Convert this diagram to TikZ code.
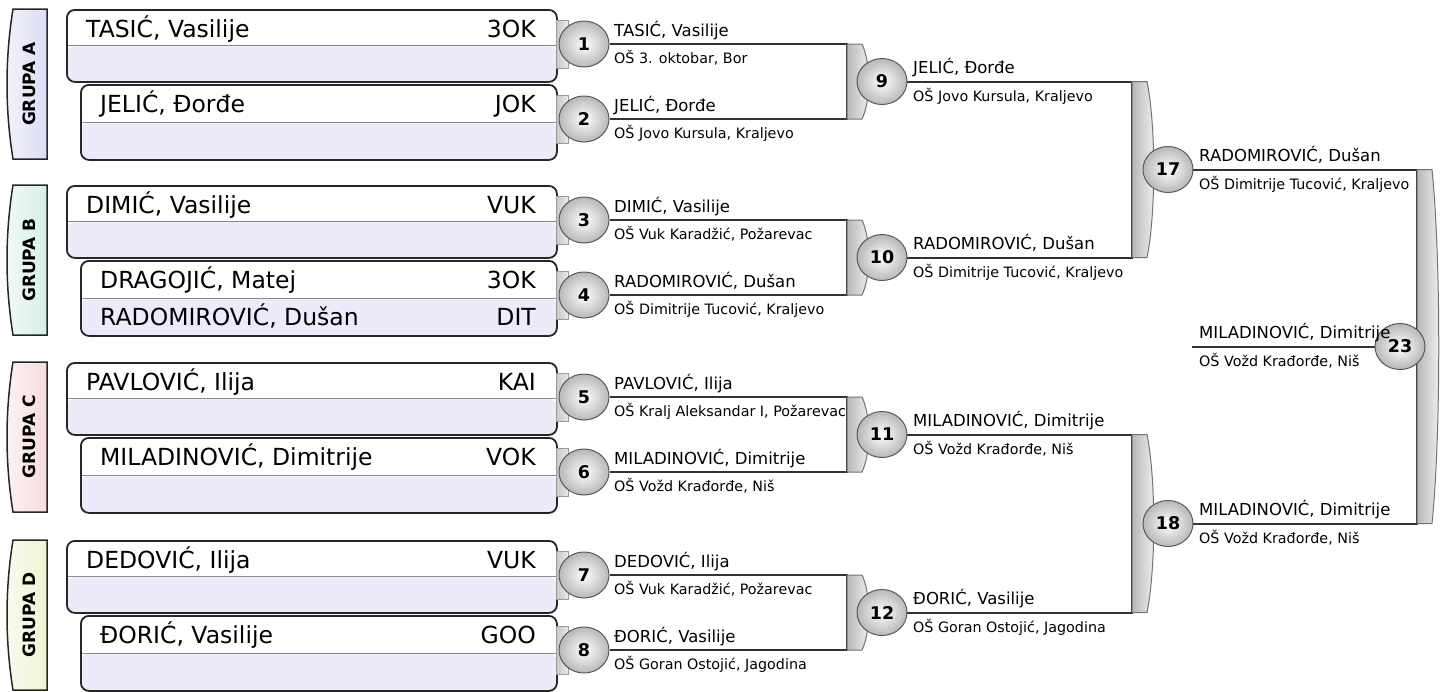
\documentclass[tikz,border=0pt]{standalone}
\usepackage{fontspec}
\setmainfont{DejaVu Sans}
\usetikzlibrary{shapes.geometric}
\definecolor{lowfill}{HTML}{EDEBFA}
\definecolor{tabA}{HTML}{DCDCF6}
\definecolor{tabB}{HTML}{D8F0E6}
\definecolor{tabC}{HTML}{F8DCDC}
\definecolor{tabD}{HTML}{F0F4D2}
\tikzset{
  pbox/.style={draw=black!85, line width=1.8pt, rounded corners=8pt, fill=white,
    inner sep=0pt, anchor=north west,
    path picture={\fill[lowfill] (path picture bounding box.west) rectangle (path picture bounding box.south east);
      \draw[black!45, line width=1pt] (path picture bounding box.west) -- (path picture bounding box.east);}},
  big/.style={font=\fontsize{23.5pt}{28pt}\selectfont, inner sep=0pt},
  nm/.style={font=\fontsize{16.5pt}{19pt}\selectfont, inner sep=0pt, anchor=base west},
  sc/.style={font=\fontsize{14.3pt}{17pt}\selectfont, inner sep=0pt, anchor=base west},
  grp/.style={font=\bfseries\fontsize{17pt}{19pt}\selectfont, inner sep=0pt},
  ctab/.style={draw=black!40, line width=0.8pt, left color=black!22, right color=black!8,
    minimum width=12pt, minimum height=48pt, inner sep=0pt, anchor=west},
  wire/.style={draw=black!80, line width=2pt},
  bar/.style={draw=black!55, line width=1pt, left color=black!28, right color=black!5},
  match/.style={ellipse, draw=black!65, line width=1pt, inner color=white, outer color=black!28,
    minimum width=50pt, minimum height=46pt, inner sep=0pt,
    font=\bfseries\fontsize{17.5pt}{19pt}\selectfont},
}
\newcommand\gtab[3]{%
  \path[draw=black!85, line width=1.5pt, left color=#2!35!white, right color=#2]
    (47,#1) -- (13,#1) .. controls (5,{#1+50}) and (5,{#1+100}) .. (13,{#1+150}) -- (47,{#1+150}) -- cycle;
  \node[grp, rotate=90] (g#3) at (29,{#1+75}) {GRUPA #3};}
\newcommand\mlabel[5]{%
  \node[nm] (#1n) at (#2,{#3-8}) {#4};
  \node[sc] (#1s) at (#2,{#3+19.5}) {#5};}
\newcommand\gbar[4]{%
  \path[bar] (#2,#3) -- ({#2+15},#3) .. controls ({#2+24},{#3+(#4-#3)*0.25}) and ({#2+24},{#4-(#4-#3)*0.25}) .. ({#2+15},#4) -- (#2,#4) -- cycle;}
\begin{document}
\begin{tikzpicture}[x=1pt,y=-1pt]
\useasboundingbox (0,0) rectangle (1445,691);
% group tabs
\gtab{9}{tabA}{A}
\gtab{185}{tabB}{B}
\gtab{362}{tabC}{C}
\gtab{540}{tabD}{D}
% player boxes
\node[pbox, minimum width=490pt, minimum height=72pt] (pA1) at (66,9) {};
\node[pbox, minimum width=476pt, minimum height=75pt] (pA2) at (80,84) {};
\node[pbox, minimum width=490pt, minimum height=72pt] (pB1) at (66,185) {};
\node[pbox, minimum width=476pt, minimum height=75pt] (pB2) at (80,260) {};
\node[pbox, minimum width=490pt, minimum height=72pt] (pC1) at (66,362) {};
\node[pbox, minimum width=476pt, minimum height=75pt] (pC2) at (80,437) {};
\node[pbox, minimum width=490pt, minimum height=72pt] (pD1) at (66,540) {};
\node[pbox, minimum width=476pt, minimum height=75pt] (pD2) at (80,615) {};
% box texts
\node[big, anchor=base west] (nA1) at (86,37) {TASIĆ, Vasilije};
\node[big, anchor=base east] (cA1) at (536,37) {3OK};
\node[big, anchor=base west] (nA2) at (100,112) {JELIĆ, Đorđe};
\node[big, anchor=base east] (cA2) at (536,112) {JOK};
\node[big, anchor=base west] (nB1) at (86,213) {DIMIĆ, Vasilije};
\node[big, anchor=base east] (cB1) at (536,213) {VUK};
\node[big, anchor=base west] (nB2) at (100,288) {DRAGOJIĆ, Matej};
\node[big, anchor=base east] (cB2) at (536,288) {3OK};
\node[big, anchor=base west] (nB3) at (100,325) {RADOMIROVIĆ, Dušan};
\node[big, anchor=base east] (cB3) at (536,325) {DIT};
\node[big, anchor=base west] (nC1) at (86,390) {PAVLOVIĆ, Ilija};
\node[big, anchor=base east] (cC1) at (536,390) {KAI};
\node[big, anchor=base west] (nC2) at (100,465) {MILADINOVIĆ, Dimitrije};
\node[big, anchor=base east] (cC2) at (536,465) {VOK};
\node[big, anchor=base west] (nD1) at (86,568) {DEDOVIĆ, Ilija};
\node[big, anchor=base east] (cD1) at (536,568) {VUK};
\node[big, anchor=base west] (nD2) at (100,643) {ĐORIĆ, Vasilije};
\node[big, anchor=base east] (cD2) at (536,643) {GOO};
% connector tabs
\node[ctab] (t1) at (556,44) {};
\node[ctab] (t2) at (556,119) {};
\node[ctab] (t3) at (556,220) {};
\node[ctab] (t4) at (556,295) {};
\node[ctab] (t5) at (556,397) {};
\node[ctab] (t6) at (556,472) {};
\node[ctab] (t7) at (556,575) {};
\node[ctab] (t8) at (556,650) {};
% positions of later rounds
\path (882,81.5) coordinate (c9) (882,257.5) coordinate (c10) (882,434.5) coordinate (c11) (882,612.5) coordinate (c12)
      (1168,169.5) coordinate (c17) (1168,523.5) coordinate (c18) (1400,346.5) coordinate (c23)
      (1192,346.5) coordinate (f23);
% labels
\mlabel{l1}{614}{44}{TASIĆ, Vasilije}{OŠ 3. oktobar, Bor}
\mlabel{l2}{614}{119}{JELIĆ, Đorđe}{OŠ Jovo Kursula, Kraljevo}
\mlabel{l3}{614}{220}{DIMIĆ, Vasilije}{OŠ Vuk Karadžić, Požarevac}
\mlabel{l4}{614}{295}{RADOMIROVIĆ, Dušan}{OŠ Dimitrije Tucović, Kraljevo}
\mlabel{l5}{614}{397}{PAVLOVIĆ, Ilija}{OŠ Kralj Aleksandar I, Požarevac}
\mlabel{l6}{614}{472}{MILADINOVIĆ, Dimitrije}{OŠ Vožd Krađorđe, Niš}
\mlabel{l7}{614}{575}{DEDOVIĆ, Ilija}{OŠ Vuk Karadžić, Požarevac}
\mlabel{l8}{614}{650}{ĐORIĆ, Vasilije}{OŠ Goran Ostojić, Jagodina}
\mlabel{l9}{913}{81.5}{JELIĆ, Đorđe}{OŠ Jovo Kursula, Kraljevo}
\mlabel{l10}{913}{257.5}{RADOMIROVIĆ, Dušan}{OŠ Dimitrije Tucović, Kraljevo}
\mlabel{l11}{913}{434.5}{MILADINOVIĆ, Dimitrije}{OŠ Vožd Krađorđe, Niš}
\mlabel{l12}{913}{612.5}{ĐORIĆ, Vasilije}{OŠ Goran Ostojić, Jagodina}
\mlabel{l17}{1199}{169.5}{RADOMIROVIĆ, Dušan}{OŠ Dimitrije Tucović, Kraljevo}
\mlabel{l18}{1199}{523.5}{MILADINOVIĆ, Dimitrije}{OŠ Vožd Krađorđe, Niš}
% round-1 match circles
\node[match] (m1) at (584,44) {1};
\node[match] (m2) at (584,119) {2};
\node[match] (m3) at (584,220) {3};
\node[match] (m4) at (584,295) {4};
\node[match] (m5) at (584,397) {5};
\node[match] (m6) at (584,472) {6};
\node[match] (m7) at (584,575) {7};
\node[match] (m8) at (584,650) {8};
% bracket corner coordinates
\coordinate (b9t) at (847,44); \coordinate (b9b) at (847,119);
\coordinate (b10t) at (847,220); \coordinate (b10b) at (847,295);
\coordinate (b11t) at (847,397); \coordinate (b11b) at (847,472);
\coordinate (b12t) at (847,575); \coordinate (b12b) at (847,650);
\coordinate (b17t) at (1132,81.5); \coordinate (b17b) at (1132,257.5);
\coordinate (b18t) at (1132,434.5); \coordinate (b18b) at (1132,612.5);
\coordinate (b23t) at (1417,169.5); \coordinate (b23b) at (1417,523.5);
% wires
\draw[wire] (m1) -- (b9t) -- (b9b) -- (m2);
\draw[wire] (m3) -- (b10t) -- (b10b) -- (m4);
\draw[wire] (m5) -- (b11t) -- (b11b) -- (m6);
\draw[wire] (m7) -- (b12t) -- (b12b) -- (m8);
\draw[wire] (c9) -- (b17t) -- (b17b) -- (c10);
\draw[wire] (c11) -- (b18t) -- (b18b) -- (c12);
\draw[wire] (c17) -- (b23t) -- (b23b) -- (c18);
\draw[wire] (f23) -- (c23);
% bars
\gbar{B9}{847}{44}{119}
\gbar{B10}{847}{220}{295}
\gbar{B11}{847}{397}{472}
\gbar{B12}{847}{575}{650}
\gbar{B17}{1132}{81.5}{257.5}
\gbar{B18}{1132}{434.5}{612.5}
\gbar{B23}{1417}{169.5}{523.5}
% later-round circles
\node[match] (m9) at (c9) {9};
\node[match] (m10) at (c10) {10};
\node[match] (m11) at (c11) {11};
\node[match] (m12) at (c12) {12};
\node[match] (m17) at (c17) {17};
\node[match] (m18) at (c18) {18};
\node[match] (m23) at (c23) {23};
\mlabel{l23}{1199}{346.5}{MILADINOVIĆ, Dimitrije}{OŠ Vožd Krađorđe, Niš}
\end{tikzpicture}
\end{document}
